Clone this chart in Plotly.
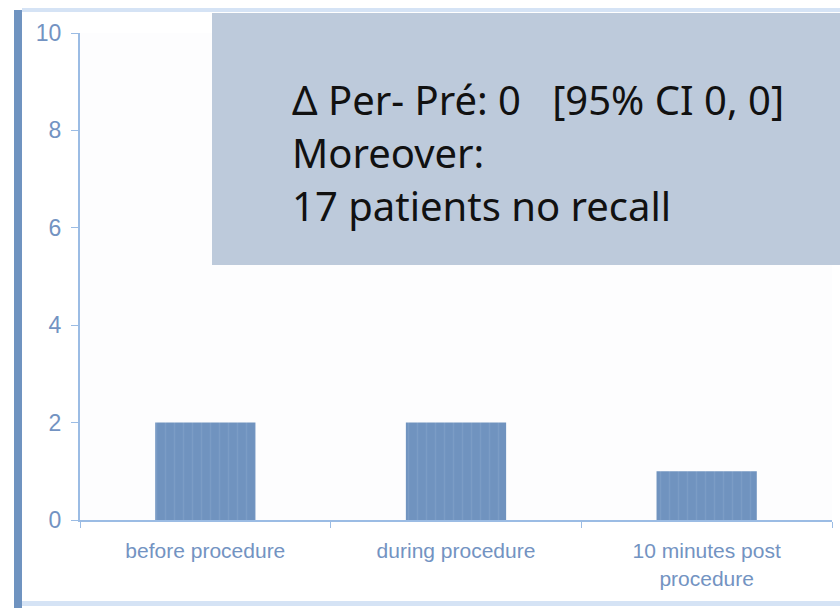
import plotly.graph_objects as go

categories = ["before procedure", "during procedure", "10 minutes post<br>procedure"]
values = [2, 2, 1]
y_ticks = [0, 2, 4, 6, 8, 10]
box_lines = ["Δ Per- Pré: 0   [95% CI 0, 0]", "Moreover:", "17 patients no recall"]

L, T, W, H = 80, 33, 752, 487


def px(x):
    return (x - L) / W


def py(y):
    return (T + H - y) / H


fig = go.Figure()
fig.add_trace(go.Bar(
    x=categories, y=values,
    marker=dict(color="#7093BF", line=dict(width=0),
                pattern=dict(shape="|", fgcolor="#86A5CC", size=9, solidity=0.15)),
    width=0.4, showlegend=False,
))

tick_color = "#7393C2"
axis_color = "#9BBCE4"

fig.update_layout(
    width=840, height=608,
    margin=dict(l=L, r=840 - L - W, t=T, b=608 - T - H, autoexpand=False),
    paper_bgcolor="#FFFFFF", plot_bgcolor="#FDFDFE",
    font=dict(family="Liberation Sans, Arial, sans-serif", color=tick_color),
    xaxis=dict(type="category", tickson="boundaries", ticks="outside", ticklen=6,
               tickcolor=axis_color, showline=True, linecolor=axis_color, linewidth=2,
               showgrid=False, tickfont=dict(size=21, color=tick_color), range=[-0.5, 2.5],
               ticklabelstandoff=11),
    yaxis=dict(range=[0, 10], tickvals=y_ticks, ticks="outside", ticklen=7,
               tickcolor=axis_color, showline=True, linecolor=axis_color, linewidth=2,
               showgrid=False, zeroline=False, tickfont=dict(size=23, color=tick_color),
               ticklabelstandoff=5),
    shapes=[
        dict(type="rect", xref="paper", yref="paper", x0=px(14), x1=px(22), y0=py(608), y1=py(10),
             fillcolor="#6F93C0", line=dict(width=0), layer="above"),
        dict(type="rect", xref="paper", yref="paper", x0=px(22), x1=px(840), y0=py(12), y1=py(8),
             fillcolor="#D5E3F5", line=dict(width=0), layer="above"),
        dict(type="rect", xref="paper", yref="paper", x0=px(22), x1=px(840), y0=py(606), y1=py(601),
             fillcolor="#D5E3F5", line=dict(width=0), layer="above"),
        dict(type="rect", xref="paper", yref="paper", x0=px(212), x1=px(840), y0=py(265), y1=py(13),
             fillcolor="#BDCADB", line=dict(width=0), layer="above"),
    ],
)

for txt, yc in zip(box_lines, [100, 152, 205]):
    fig.add_annotation(xref="paper", yref="paper", x=px(290), y=py(yc), xanchor="left",
                       yanchor="middle", text=txt, showarrow=False,
                       font=dict(family="Noto Sans, Liberation Sans, sans-serif", size=40, color="#111111"))

fig.write_html("out.html", config={"displayModeBar": False},
               post_script="document.body.style.margin='0';document.body.style.overflow='hidden';")
